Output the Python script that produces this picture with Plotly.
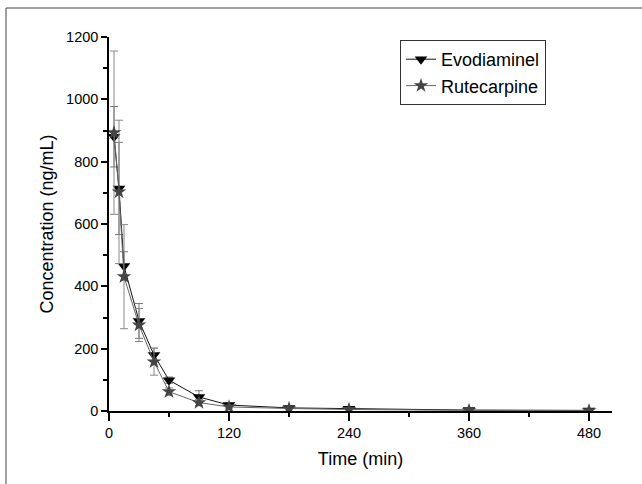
import plotly.graph_objects as go

time_min = [5, 10, 15, 30, 45, 60, 90, 120, 180, 240, 360, 480]
evodiamine = [880, 714, 465, 289, 180, 99, 45, 19, 10, 7, 3, 2]
evodiamine_sd = [97, 148, 46, 56, 22, 10, 20, 6, 4, 3, 1, 1]
rutecarpine = [893, 703, 431, 276, 158, 62, 27, 13, 8, 5, 2, 1]
rutecarpine_sd = [262, 230, 167, 53, 43, 12, 10, 4, 3, 2, 1, 1]

font = "Liberation Sans, Arial, sans-serif"

fig = go.Figure()
fig.add_trace(go.Scatter(
    x=time_min, y=evodiamine, name="Evodiaminel", mode="lines+markers",
    line=dict(color="#111111", width=1),
    marker=dict(symbol="triangle-down", size=11, color="#000000"),
    error_y=dict(type="data", array=evodiamine_sd, color="#777777", thickness=1, width=4),
))
fig.add_trace(go.Scatter(
    x=time_min, y=rutecarpine, name="Rutecarpine", mode="lines+markers",
    line=dict(color="#666666", width=1),
    marker=dict(symbol="star", size=11, color="#444444"),
    error_y=dict(type="data", array=rutecarpine_sd, color="#888888", thickness=1, width=4),
))

W, H = 642, 484
l, r, t, b = 109, 30, 37, 73
pw, ph = W - l - r, H - t - b

def px(xp):
    return (xp - l) / pw

def py(yp):
    return (H - b - yp) / ph

fig.update_layout(
    width=W, height=H,
    margin=dict(l=l, r=r, t=t, b=b, pad=0),
    paper_bgcolor="white", plot_bgcolor="white",
    font=dict(family=font, size=14, color="#000000"),
    showlegend=True,
    legend=dict(
        x=px(400), y=py(40), xanchor="left", yanchor="top",
        bordercolor="#333333", borderwidth=1, bgcolor="white",
        font=dict(size=18, family=font), tracegroupgap=0,
    ),
    xaxis=dict(
        range=[0, 503], tickvals=[0, 120, 240, 360, 480],
        showgrid=False, zeroline=False, showline=True, linecolor="#000000", linewidth=1.5,
        ticks="outside", ticklen=8, tickwidth=1.5, tickcolor="#000000",
        minor=dict(tickvals=[60, 180, 300, 420], ticks="outside", ticklen=4, tickwidth=1.5, tickcolor="#000000"),
        title=dict(text="Time (min)", font=dict(size=18, family=font), standoff=12),
        tickfont=dict(size=14.5, family=font),
    ),
    yaxis=dict(
        range=[0, 1200], tickvals=[0, 200, 400, 600, 800, 1000, 1200],
        showgrid=False, zeroline=False, showline=True, linecolor="#000000", linewidth=1.5,
        ticks="outside", ticklen=6, tickwidth=1.5, tickcolor="#000000",
        minor=dict(tickvals=[100, 300, 500, 700, 900, 1100], ticks="outside", ticklen=4, tickwidth=1.5, tickcolor="#000000"),
        title=dict(text="Concentration (ng/mL)", font=dict(size=18, family=font), standoff=8),
        tickfont=dict(size=14.5, family=font),
    ),
    shapes=[
        dict(type="line", xref="paper", yref="paper", x0=px(6), x1=px(642), y0=py(8), y1=py(8),
             line=dict(color="#444444", width=1)),
        dict(type="line", xref="paper", yref="paper", x0=px(6), x1=px(6), y0=py(8), y1=py(484),
             line=dict(color="#444444", width=1)),
    ],
)

fig.write_html("out.html", config={"displayModeBar": False},
               post_script="document.body.style.margin='0';document.body.style.overflow='hidden';")
